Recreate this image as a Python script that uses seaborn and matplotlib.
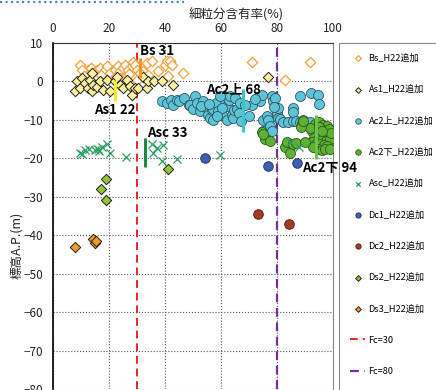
import numpy as np
import pandas as pd
import seaborn as sns
import matplotlib.pyplot as plt
from matplotlib.lines import Line2D
from matplotlib.patches import Rectangle

# fines content (%) and elevation A.P. (m)
bs_x = [9.6, 12.6, 13.5, 15.6, 16.8, 18.6, 19.2, 20.4, 22.1, 23.3, 23.9, 25.1, 25.7, 26.9, 28.1,
        28.7, 29.3, 29.9, 29.9, 32.3, 33.5, 35.2, 37.6, 40.0, 40.6, 41.2, 41.8, 42.4, 46.3, 71.0,
        82.9, 91.8, 10.5, 14.0, 17.0, 11.0, 22.0, 27.0, 31.0, 34.0, 24.0]
bs_y = [4.4, 2.9, 3.6, 3.1, 3.6, 3.1, 4.0, 2.3, 3.1, 4.0, 2.7, 3.6, 4.4, 3.1, 4.0,
        5.0, 4.4, 3.1, 0.5, 2.7, 4.8, 5.3, 2.7, 4.4, 5.3, 1.4, 5.3, 4.4, 2.3, 5.1,
        0.5, 5.1, 3.0, 2.2, 1.8, 1.5, 1.2, 2.0, 2.3, 1.7, 1.0]

as1_x = [7.9, 8.5, 9.6, 10.2, 11.4, 12.6, 13.2, 13.8, 13.8, 14.4, 15.6, 16.8, 18.0, 19.2, 20.4,
         22.1, 23.0, 23.9, 25.1, 26.3, 27.5, 28.1, 29.3, 30.5, 32.0, 33.5, 34.0, 36.0, 38.8, 43.0,
         76.9]
as1_y = [-2.5, 0.1, -1.6, 1.0, -0.3, -1.6, 0.5, 2.3, -2.5, -0.8, -1.4, 0.1, -2.1, 0.5, -2.5,
         0.1, 1.2, -0.8, -1.6, 0.5, -1.2, -3.4, -1.6, -1.6, 1.2, -1.6, 0.1, 0.1, 0.1, -0.8,
         1.1]

ac2u_x = [38.8, 40.6, 42.0, 43.0, 44.2, 45.1, 46.9, 48.7, 48.9, 50.1, 50.7, 51.3, 52.5, 53.7, 54.6,
          55.5, 56.1, 56.7, 57.3, 57.3, 58.2, 59.1, 60.2, 61.1, 61.4, 62.0, 62.0, 63.0, 63.8, 64.4,
          64.6, 65.8, 66.5, 67.0, 60.5, 58.5, 53.0, 55.8, 72.5, 73.3, 73.9, 74.5, 75.1, 75.1, 76.3,
          76.9, 77.5, 78.1, 78.1, 78.7, 79.3, 79.9, 80.5, 80.5, 81.1, 82.3, 84.0, 85.8, 85.8, 85.8,
          86.8, 88.2, 88.2, 89.4, 90.0, 91.8, 92.0, 94.8, 95.1, 70.0, 71.0, 59.6, 63.2, 65.0, 66.8,
          68.6, 72.1, 78.9]
ac2u_y = [-5.2, -5.5, -4.7, -6.1, -4.7, -5.0, -4.3, -6.2, -6.0, -7.1, -3.8, -5.5, -7.7, -5.1, -6.6,
          -8.6, -9.4, -7.5, -7.1, -10.0, -5.5, -7.7, -8.6, -3.8, -5.1, -6.4, -9.9, -4.7, -8.6, -9.4,
          -7.3, -7.1, -8.1, -10.3, -6.8, -8.9, -6.4, -5.9, -4.7, -4.1, -5.1, -3.6, -9.9, -12.9, -9.0,
          -9.9, -11.6, -12.9, -3.8, -5.1, -4.2, -8.1, -6.8, -9.4, -9.7, -10.6, -10.6, -10.3, -6.8, -8.0,
          -10.3, -10.6, -3.8, -10.0, -11.2, -10.6, -2.9, -3.6, -5.8, -9.0, -6.0, -3.8, -3.8, -4.2, -5.5,
          -6.2, -4.5, -6.6]

ac2l_x = [93.5, 95.0, 96.5, 97.8, 94.2, 95.8, 97.2, 98.5, 92.6, 94.0, 95.5, 96.8, 98.2, 93.2, 94.8,
          96.2, 97.6, 99.0, 92.4, 93.8, 95.3, 96.7, 98.0, 94.5, 96.0, 97.3, 91.8, 99.2, 95.0, 96.0,
          93.0, 98.8, 74.5, 75.7, 77.5, 75.1, 82.9, 83.5, 84.6, 85.8, 86.8, 88.8, 88.5, 90.0, 89.2]
ac2l_y = [-11.0, -10.6, -11.2, -11.5, -12.2, -12.4, -12.8, -12.5, -13.0, -13.6, -13.8, -14.0, -14.2, -14.6, -15.0,
          -15.2, -15.4, -15.0, -15.8, -16.2, -16.4, -16.6, -16.8, -17.5, -17.8, -17.6, -12.0, -13.5, -11.8, -13.0,
          -17.0, -17.5, -13.1, -15.1, -15.6, -13.8, -17.0, -15.8, -18.5, -16.4, -16.1, -10.7, -11.8, -15.8, -10.4]

asc_x = [9.6, 11.4, 13.0, 15.0, 16.0, 16.5, 19.2, 20.4, 26.1, 35.2, 37.0, 39.2, 35.8, 38.8, 44.2,
         59.6, 84.6, 88.0, 10.2, 17.5]
asc_y = [-18.5, -17.8, -17.7, -17.8, -17.6, -18.1, -16.4, -18.5, -19.6, -16.4, -17.2, -16.6, -18.5, -20.7, -20.1,
         -19.2, -15.8, -17.0, -18.8, -17.0]

dc1_x = [54.3, 76.9, 87.0]
dc1_y = [-19.8, -22.0, -21.1]
dc2_x = [73.1, 84.2]
dc2_y = [-34.5, -37.1]
ds2_x = [18.9, 17.0, 18.9, 41.2]
ds2_y = [-25.3, -28.1, -30.9, -22.9]
ds3_x = [8.0, 14.2, 15.0, 15.3]
ds3_y = [-43.0, -40.9, -42.1, -41.6]

# representative fines content per layer
rep_names = ['Bs 31', 'As1 22', 'Asc 33', 'Ac2上 68', 'Ac2下 94']
rep_x = [31, 22, 33, 68, 94]
rep_top = [6.2, 0.5, -14.8, -1.9, -8.6]
rep_bot = [1.0, -5.1, -22.3, -13.2, -20.3]
rep_colors = ['#f7941d', '#f2ee1a', '#1a8c46', '#3fc4cc', '#6cc24a']
rep_text_x = [31.1, 14.6, 33.6, 54.6, 88.8]
rep_text_y = [7.9, -7.3, -13.3, -2.1, -22.6]

fc_lines = [30, 80]

plt.rcParams['font.family'] = ['Noto Sans CJK JP', 'DejaVu Sans']

fig = plt.figure(figsize=(4.36, 3.90), dpi=100)
W, H = 436, 390
ax = fig.add_axes([53 / W, 1 - 389 / H, 280 / W, 346 / H])

series = [
    ('Bs_H22追加', bs_x, bs_y, dict(marker='D', facecolor='white', edgecolor='#f7a03a', s=28, linewidth=0.9)),
    ('As1_H22追加', as1_x, as1_y, dict(marker='D', facecolor='#fdf19b', edgecolor='#222222', s=28, linewidth=0.7)),
    ('Ac2上_H22追加', ac2u_x, ac2u_y, dict(marker='o', facecolor='#5ec3d6', edgecolor='#2a5560', s=52, linewidth=0.6)),
    ('Ac2下_H22追加', ac2l_x, ac2l_y, dict(marker='o', facecolor='#5fb134', edgecolor='#2c5a1a', s=52, linewidth=0.6)),
    ('Asc_H22追加', asc_x, asc_y, dict(marker='x', color='#2e9e62', s=34, linewidth=0.9)),
    ('Dc1_H22追加', dc1_x, dc1_y, dict(marker='o', facecolor='#3d5fae', edgecolor='#1d2f5a', s=48, linewidth=0.6)),
    ('Dc2_H22追加', dc2_x, dc2_y, dict(marker='o', facecolor='#a33a22', edgecolor='#4a1a10', s=48, linewidth=0.6)),
    ('Ds2_H22追加', ds2_x, ds2_y, dict(marker='D', facecolor='#92c53a', edgecolor='#222222', s=28, linewidth=0.7)),
    ('Ds3_H22追加', ds3_x, ds3_y, dict(marker='D', facecolor='#f39a23', edgecolor='#222222', s=28, linewidth=0.7)),
]

for name, xs, ys, kw in series:
    df = pd.DataFrame({'x': xs, 'y': ys})
    sns.scatterplot(data=df, x='x', y='y', ax=ax, label=name, zorder=3, **kw)

ax.axvline(fc_lines[0], color='#ee2222', linestyle=(0, (4, 2.5)), linewidth=1.4, label='Fc=30', zorder=2)
ax.axvline(fc_lines[1], color='#7030a0', linestyle=(0, (4, 2.5)), linewidth=1.6, label='Fc=80', zorder=2)

for i in range(len(rep_names)):
    ax.vlines(rep_x[i], rep_bot[i], rep_top[i], color=rep_colors[i], linewidth=2.2, zorder=4)
    ax.text(rep_text_x[i], rep_text_y[i], rep_names[i], fontsize=9.5, fontweight='bold',
            ha='left', va='center', clip_on=False, zorder=5)

ax.set_xlim(0, 100)
ax.set_ylim(-80, 10)
ax.set_xticks([0, 20, 40, 60, 80, 100])
ax.set_yticks(np.arange(-80, 11, 10))
ax.set_yticklabels(['−80', '−70', '−60', '−50', '−40', '−30', '−20', '−10', '0', '10'])
ax.xaxis.tick_top()
ax.tick_params(axis='both', length=0, labelsize=8.5, colors='#222222')
ax.tick_params(axis='x', pad=6)
ax.tick_params(axis='y', pad=7)
ax.set_xlabel('')
ax.set_ylabel('')
ax.grid(True, color='#555555', linestyle=':', linewidth=0.8)
ax.set_axisbelow(True)
ax.spines['bottom'].set_visible(False)
ax.spines['left'].set_color('black')
ax.spines['left'].set_linewidth(1.2)
ax.spines['top'].set_color('#333333')
ax.spines['top'].set_linewidth(0.8)
ax.spines['right'].set_color('#888888')
ax.spines['right'].set_linewidth(0.8)

handles, labels = ax.get_legend_handles_labels()
ax.legend(handles, labels, loc='upper left', bbox_to_anchor=(347 / W, 1 - 51 / H),
          bbox_transform=fig.transFigure, frameon=False, fontsize=6.6,
          labelspacing=2.42, handlelength=1.7, handletextpad=0.35, markerscale=0.55,
          borderaxespad=0, borderpad=0.3)

fig.add_artist(Rectangle((339 / W, -0.01), 0.3, 1 - 43 / H + 0.01, transform=fig.transFigure,
                         fill=False, edgecolor='#888888', linewidth=0.8))
fig.add_artist(Line2D([0, 184 / W], [1 - 1.5 / H, 1 - 1.5 / H], transform=fig.transFigure,
                      color='#4a7cc0', linestyle=':', linewidth=1.5))

fig.text(236 / W, 1 - 15 / H, '細粒分含有率(%)', ha='center', va='center', fontsize=9, color='#222222')
fig.text(17 / W, 1 - 245 / H, '標高A.P.(m)', ha='center', va='center', rotation=90, fontsize=9, color='#222222')

fig.savefig('out.png', dpi=100)
